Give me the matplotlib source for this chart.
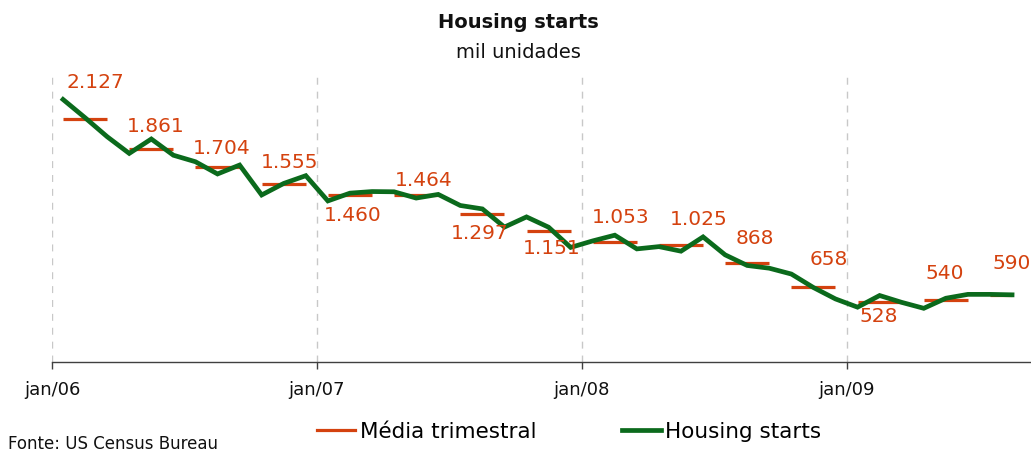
import matplotlib
matplotlib.use("Agg")
import matplotlib.pyplot as plt
from matplotlib.lines import Line2D
import numpy as np

# ---- data ----
months = [
    "jan/06","fev/06","mar/06","abr/06","mai/06","jun/06","jul/06","ago/06","set/06","out/06","nov/06","dez/06",
    "jan/07","fev/07","mar/07","abr/07","mai/07","jun/07","jul/07","ago/07","set/07","out/07","nov/07","dez/07",
    "jan/08","fev/08","mar/08","abr/08","mai/08","jun/08","jul/08","ago/08","set/08","out/08","nov/08","dez/08",
    "jan/09","fev/09","mar/09","abr/09","mai/09","jun/09","jul/09","ago/09",
]
housing_starts = [
    2298, 2138, 1972, 1826, 1952, 1810, 1753, 1646, 1724, 1462, 1563, 1631,
    1410, 1478, 1492, 1490, 1435, 1467, 1370, 1340, 1181, 1270, 1180, 1003,
    1060, 1110, 990, 1010, 970, 1095, 938, 845, 821, 770, 652, 552,
    480, 582, 522, 470, 558, 592, 592, 588,
]
quarterly_avg = [2127, 1861, 1704, 1555, 1460, 1464, 1297, 1151,
                 1053, 1025, 868, 658, 528, 540, 590]
quarter_labels = ["2.127", "1.861", "1.704", "1.555", "1.460", "1.464", "1.297", "1.151",
                  "1.053", "1.025", "868", "658", "528", "540", "590"]
tick_labels = ["jan/06", "jan/07", "jan/08", "jan/09"]

# ---- style (label offsets in pixels) ----
label_dx = [3, -2, -3, -1, -4, 1, -9, -4, -1, 11, 10, 18, 2, 2, 3]
label_dy = [36.5, 23, 19, 22, -20, 14, -19.5, -17.5, 24, 25, 24.5, 27, -15, 27, 31]

RED = "#D4420F"
GREEN = "#0B6A1C"

W, H = 1031, 454
fig = plt.figure(figsize=(W / 100, H / 100), dpi=100)
ax = fig.add_axes([52 / W, (454 - 362) / H, (W - 52) / W, (362 - 76.4) / H])

x = np.arange(len(housing_starts)) + 0.5

# quarterly bars
for q, val in enumerate(quarterly_avg):
    x0 = x[3 * q]
    x1 = x[min(3 * q + 2, len(x) - 1)]
    ax.plot([x0, x1], [val, val], color=RED, lw=2.3, solid_capstyle="butt", zorder=2)
    ax.annotate(quarter_labels[q], xy=(x0, val), xytext=(label_dx[q], label_dy[q]),
                textcoords="offset pixels", ha="left", va="center",
                fontsize=14.5, color=RED, zorder=4)

ax.plot(x, housing_starts, color=GREEN, lw=3.4, solid_joinstyle="miter", zorder=3)

ax.set_xlim(0, (W - 52) / 22.07)
ax.set_ylim(0, 2500)

year_pos = [0, 12, 24, 36]
for xp in year_pos:
    ax.axvline(xp, color="#C8C8C8", lw=1, ls=(0, (5, 5)), zorder=1)

ax.set_xticks(year_pos)
ax.set_xticklabels(tick_labels, fontsize=13, color="#111111")
ax.tick_params(axis="x", direction="out", length=5, width=1, color="#404040", pad=9)
ax.set_yticks([])
for s in ["top", "right", "left"]:
    ax.spines[s].set_visible(False)
ax.spines["bottom"].set_color("#404040")
ax.spines["bottom"].set_linewidth(1)

fig.text(518 / W, 1 - 22 / H, "Housing starts", ha="center", va="center",
         fontsize=14, fontweight="bold", color="#111111")
fig.text(518 / W, 1 - 53 / H, "mil unidades", ha="center", va="center",
         fontsize=14, color="#111111")
fig.text(8 / W, 1 - 444 / H, "Fonte: US Census Bureau", ha="left", va="center",
         fontsize=12, color="#111111")

handles = [Line2D([], [], color=RED, lw=2.3), Line2D([], [], color=GREEN, lw=3.4)]
fig.legend(handles, ["Média trimestral", "Housing starts"], loc="center",
           bbox_to_anchor=(569 / W, 1 - 432 / H), ncol=2, frameon=False,
           fontsize=15.5, handlelength=1.8, handletextpad=0.2, columnspacing=4.0,
           borderpad=0, borderaxespad=0)

fig.savefig("out.png", dpi=100, facecolor="white")
